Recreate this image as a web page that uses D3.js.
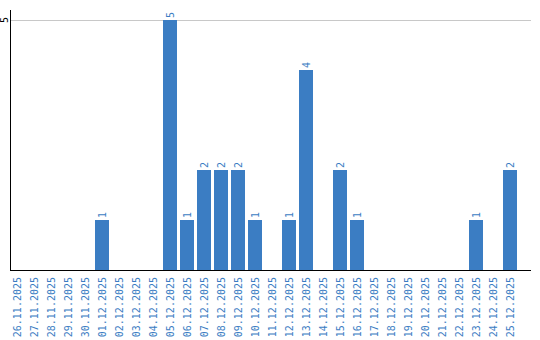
<!DOCTYPE html>
<html>
<head>
<meta charset="utf-8">
<script src="https://cdn.jsdelivr.net/npm/d3@7"></script>
<style>
  body { margin: 0; background: #fff; }
  svg { display: block; }
  text { font-family: "DejaVu Sans Mono", monospace; }
</style>
</head>
<body>
<div id="box-div"></div>
<script>
const dates = ['26.11.2025','27.11.2025','28.11.2025','29.11.2025','30.11.2025',
  '01.12.2025','02.12.2025','03.12.2025','04.12.2025','05.12.2025','06.12.2025',
  '07.12.2025','08.12.2025','09.12.2025','10.12.2025','11.12.2025','12.12.2025',
  '13.12.2025','14.12.2025','15.12.2025','16.12.2025','17.12.2025','18.12.2025',
  '19.12.2025','20.12.2025','21.12.2025','22.12.2025','23.12.2025','24.12.2025',
  '25.12.2025'];
const counts = [0,0,0,0,0, 1,0,0,0,5,1, 2,2,2,1,0,1, 4,0,2,1,0,0, 0,0,0,0,1,0, 2];
const yTicks = [5];

const dms = { width: 540, height: 340 };
const blue = '#3b7dc3';

const svg = d3.select('#box-div').append('svg')
  .attr('width', dms.width)
  .attr('height', dms.height);

const x = d3.scaleBand()
  .domain(dates)
  .range([10, 517])
  .paddingInner(3 / 17)
  .paddingOuter(0);

const y = d3.scaleLinear()
  .domain([0, 5])
  .range([270, 20]);

// gridlines
svg.append('g').selectAll('line')
  .data(yTicks)
  .join('line')
  .attr('x1', 10).attr('x2', 531)
  .attr('y1', d => y(d) + 0.5).attr('y2', d => y(d) + 0.5)
  .attr('stroke', '#c8c8c8');

// y tick labels
svg.append('g').selectAll('text')
  .data(yTicks)
  .join('text')
  .attr('transform', d => `translate(8,${y(d)}) rotate(-90)`)
  .attr('text-anchor', 'middle')
  .attr('font-size', 10)
  .attr('fill', '#000')
  .text(d => d);

// bars
svg.append('g').selectAll('rect')
  .data(counts.map((v, i) => ({ d: dates[i], v })).filter(o => o.v > 0))
  .join('rect')
  .attr('x', o => x(o.d))
  .attr('y', o => y(o.v))
  .attr('width', x.bandwidth())
  .attr('height', o => y(0) - y(o.v))
  .attr('fill', blue);

// value labels
svg.append('g').selectAll('text')
  .data(counts.map((v, i) => ({ d: dates[i], v })).filter(o => o.v > 0))
  .join('text')
  .attr('transform', o => `translate(${x(o.d) + x.bandwidth() / 2 + 3.5},${y(o.v) - 2}) rotate(-90)`)
  .attr('font-size', 10)
  .attr('fill', blue)
  .text(o => o.v);

// axes lines
svg.append('line')
  .attr('x1', 10.5).attr('x2', 10.5)
  .attr('y1', 10).attr('y2', 270.5)
  .attr('stroke', '#000');
svg.append('line')
  .attr('x1', 10).attr('x2', 531)
  .attr('y1', 270.5).attr('y2', 270.5)
  .attr('stroke', '#000');

// x labels
svg.append('g').selectAll('text')
  .data(dates)
  .join('text')
  .attr('transform', d => `translate(${x(d) + x.bandwidth() / 2 + 4},277) rotate(-90)`)
  .attr('text-anchor', 'end')
  .attr('font-size', 10)
  .attr('fill', blue)
  .text(d => d);
</script>
</body>
</html>
